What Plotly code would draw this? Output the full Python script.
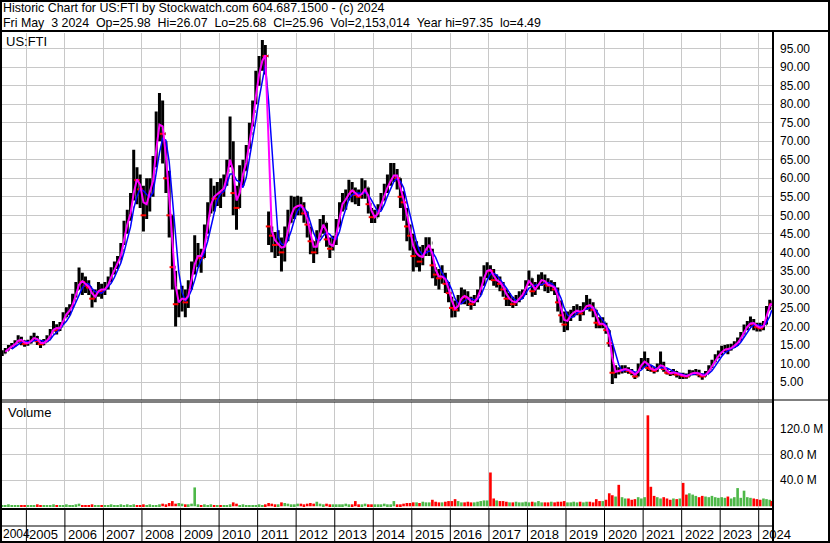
import pandas as pd
import plotly.graph_objects as go

# Stockwatch historic chart for US:FTI, monthly bars
first_day = '2004-05-17'
last_day = '2024-05-03'
first_open = 12.4

close = [
    # 2004 (May-Dec)
    12.8, 13.5, 14.3, 14.8, 15.5, 16.8, 16.0, 15.3,
    # 2005
    15.6, 16.5, 17.2, 16.0, 15.2, 15.8, 16.6, 18.0, 20.2, 19.0, 20.0, 22.5,
    # 2006
    24.0, 24.5, 27.0, 30.0, 32.5, 32.0, 31.0, 30.5, 27.5, 28.5, 30.5, 29.5,
    # 2007
    30.5, 32.0, 34.5, 36.0, 37.5, 40.5, 46.0, 49.0, 52.0, 60.0, 59.5, 57.0,
    # 2008
    50.0, 56.0, 56.5, 62.0, 73.0, 76.0, 72.0, 60.0, 50.0, 36.0, 26.0, 27.0,
    # 2009
    28.0, 26.5, 30.0, 35.0, 38.5, 39.5, 38.5, 44.0, 50.0, 55.5, 54.5, 57.0,
    # 2010
    56.0, 58.5, 62.0, 68.0, 56.0, 52.0, 60.0, 62.0, 66.5, 72.0, 78.0, 86.0,
    # 2011
    90.0, 93.5, 93.0, 47.0, 44.5, 42.0, 42.5, 40.0, 43.0, 48.0, 52.0, 52.0,
    # 2012
    53.0, 52.5, 50.5, 47.5, 43.0, 40.0, 43.0, 47.0, 48.0, 43.5, 41.0, 42.5,
    # 2013
    47.0, 52.0, 54.0, 54.5, 57.0, 56.5, 55.5, 55.0, 56.5, 57.5, 53.0, 49.5,
    # 2014
    49.5, 51.5, 54.0, 56.5, 58.5, 60.0, 61.5, 60.0, 55.0, 53.5, 47.0, 44.5,
    # 2015
    39.0, 40.5, 37.5, 40.0, 41.5, 42.5, 36.5, 34.0, 33.0, 34.0, 31.5, 29.0,
    # 2016
    25.0, 24.5, 26.5, 28.5, 28.0, 27.5, 26.0, 27.0, 28.5, 31.5, 34.5, 35.5,
    # 2017
    35.0, 32.5, 32.5, 31.5, 30.0, 27.5, 27.5, 26.0, 27.0, 28.0, 29.0, 31.5,
    # 2018
    33.0, 29.5, 30.5, 32.0, 33.0, 31.5, 31.0, 31.0, 30.0, 26.5, 23.0, 20.5,
    # 2019
    22.5, 23.5, 24.0, 24.5, 23.5, 25.0, 26.0, 25.5, 24.5, 21.0, 20.5, 21.0,
    # 2020
    19.0, 15.5, 7.5, 8.0, 7.9, 8.5, 8.5, 8.0, 7.5, 6.5, 9.0, 10.0,
    # 2021
    11.0, 8.8, 8.5, 8.0, 9.0, 10.0, 8.5, 7.5, 7.3, 7.8, 7.0, 7.0,
    # 2022
    6.6, 6.5, 7.4, 7.4, 7.6, 7.0, 6.5, 7.2, 8.5, 10.0, 11.5, 12.5,
    # 2023
    13.5, 14.0, 13.8, 14.5, 15.0, 16.0, 17.5, 19.5, 20.3, 21.3, 20.5, 19.8,
    # 2024 (Jan-May 3)
    19.5, 20.5, 24.5, 26.5, 25.96,
]

high = [
    13.6, 14.2, 15.0, 15.5, 16.3, 17.6, 17.2, 16.2,
    16.4, 17.5, 18.3, 17.4, 16.2, 16.6, 17.6, 19.3, 21.5, 20.6, 21.2, 23.8,
    25.2, 26.0, 28.8, 32.0, 35.9, 34.5, 33.5, 32.5, 30.0, 30.0, 32.0, 31.5,
    32.0, 33.5, 36.0, 37.5, 39.0, 42.5, 48.5, 51.5, 56.0, 67.7, 63.0, 61.0,
    58.0, 60.0, 60.0, 66.0, 78.0, 83.0, 81.0, 70.0, 62.0, 50.0, 35.0, 30.0,
    31.0, 30.0, 32.5, 37.5, 44.6, 42.5, 41.0, 47.5, 53.5, 60.0, 58.0, 59.0,
    60.0, 61.0, 65.0, 76.7, 70.0, 58.0, 63.5, 65.0, 69.0, 75.0, 81.0, 89.0,
    93.0, 97.35, 96.0, 51.0, 47.0, 45.5, 46.0, 44.0, 47.0, 51.5, 55.3, 55.0,
    55.3, 55.0, 53.5, 51.0, 47.0, 43.0, 46.0, 49.0, 50.1, 48.0, 44.0, 44.5,
    49.0, 53.5, 56.0, 57.0, 59.6, 59.0, 57.5, 57.0, 60.0, 59.5, 57.5, 52.0,
    51.5, 53.0, 56.0, 58.5, 61.0, 64.1, 64.1, 62.5, 60.0, 56.5, 52.0, 47.5,
    45.0, 43.0, 41.5, 42.0, 44.1, 44.1, 41.0, 36.0, 35.5, 36.5, 34.5, 32.0,
    28.0, 27.0, 28.5, 30.5, 30.0, 29.5, 28.0, 28.5, 30.0, 33.5, 36.5, 37.3,
    36.5, 35.5, 34.0, 33.5, 32.0, 30.0, 29.0, 28.0, 28.5, 29.5, 30.0, 32.5,
    35.1, 33.0, 32.0, 34.0, 34.6, 34.0, 33.0, 32.5, 32.0, 30.5, 27.0, 24.0,
    24.0, 24.5, 25.5, 26.0, 25.5, 26.5, 28.5, 27.5, 26.5, 24.5, 22.5, 22.5,
    21.0, 19.0, 15.0, 9.5, 9.0, 9.5, 9.5, 9.0, 8.5, 7.5, 10.0, 11.5,
    13.2, 11.5, 9.5, 9.0, 10.0, 13.2, 10.5, 8.5, 8.0, 8.5, 8.0, 7.5,
    7.5, 7.3, 8.3, 8.2, 8.5, 8.3, 7.3, 8.0, 9.5, 11.0, 12.5, 13.5,
    14.8, 15.0, 15.2, 15.3, 16.0, 17.0, 18.5, 20.5, 21.5, 22.7, 22.0, 21.0,
    21.0, 21.5, 25.5, 27.2, 26.07,
]

low = [
    12.0, 12.7, 13.5, 14.0, 14.6, 15.6, 14.9, 14.5,
    14.8, 15.4, 16.2, 15.0, 14.2, 14.9, 15.7, 16.8, 18.6, 17.8, 18.8, 20.6,
    22.5, 23.0, 25.0, 27.8, 30.0, 28.5, 29.0, 28.5, 25.1, 26.5, 28.0, 27.5,
    28.5, 30.0, 32.0, 34.0, 35.5, 38.0, 42.0, 45.0, 48.5, 54.0, 53.0, 52.0,
    45.6, 49.0, 51.0, 55.0, 63.0, 70.0, 64.0, 56.0, 44.0, 30.0, 20.0, 22.5,
    24.0, 22.5, 25.0, 30.0, 34.0, 36.0, 34.5, 38.5, 45.0, 50.5, 51.0, 52.5,
    52.0, 55.0, 58.0, 63.0, 50.0, 46.1, 52.0, 58.0, 62.0, 68.0, 74.0, 80.0,
    85.0, 89.0, 88.0, 42.0, 40.0, 38.5, 39.0, 34.8, 37.5, 43.0, 48.0, 49.0,
    50.0, 50.0, 48.0, 44.0, 39.5, 37.1, 39.5, 44.0, 45.0, 41.5, 38.5, 40.5,
    42.0, 47.0, 51.0, 51.5, 54.0, 53.5, 53.0, 52.5, 54.5, 54.5, 50.5, 47.9,
    47.9, 49.5, 51.5, 54.0, 56.0, 58.0, 59.0, 57.0, 52.0, 48.5, 43.0, 40.5,
    34.8, 36.0, 34.8, 36.5, 39.0, 39.0, 33.0, 31.0, 30.0, 31.5, 29.0, 26.5,
    22.4, 22.5, 24.0, 26.0, 26.0, 25.5, 24.5, 25.5, 26.5, 28.5, 31.0, 33.0,
    32.5, 31.0, 30.5, 29.5, 28.0, 25.5, 25.5, 25.0, 25.5, 26.5, 27.5, 28.5,
    31.0, 28.0, 28.5, 30.0, 31.0, 29.5, 29.0, 29.5, 28.5, 24.0, 21.0, 18.5,
    19.0, 21.5, 22.5, 23.0, 21.5, 23.0, 24.5, 24.0, 22.5, 19.5, 19.5, 19.5,
    18.0, 14.5, 4.49, 6.0, 7.0, 7.3, 7.5, 7.2, 6.8, 5.8, 6.5, 8.5,
    9.0, 8.0, 7.8, 7.3, 7.8, 8.8, 7.8, 7.0, 6.6, 6.8, 6.2, 5.8,
    5.8, 5.9, 6.5, 6.8, 6.8, 6.3, 5.6, 6.5, 7.5, 8.8, 10.3, 11.5,
    12.3, 13.0, 12.5, 13.5, 14.2, 14.8, 16.2, 17.8, 19.0, 20.0, 19.0, 18.6,
    18.6, 19.0, 20.5, 24.5, 25.68,
]

# volume in millions (tallest daily bar seen in each month)
volume_m = [
    2, 1.5, 3, 2, 1.5, 2, 1.5, 1.5,
    1.5, 2, 1.5, 3, 2, 1.5, 2, 2, 3, 2, 1.5, 2,
    3, 2, 2, 3, 4, 2, 2, 2, 3, 2, 2, 2,
    2, 2, 3, 2, 2, 3, 2, 3, 2, 3, 2, 2,
    3, 2, 3, 2, 2, 3, 4, 3, 5, 8, 4, 5,
    4, 3, 3, 4, 29, 3, 2, 3, 2, 3, 2, 2,
    2, 2, 2, 3, 6, 4, 2, 3, 2, 2, 2, 2,
    3, 2, 3, 5, 4, 3, 3, 6, 5, 4, 3, 3,
    4, 4, 3, 4, 5, 4, 7, 4, 3, 4, 3, 3,
    3, 3, 3, 4, 3, 3, 8, 3, 3, 4, 3, 3,
    3, 3, 3, 4, 3, 3, 8, 3, 3, 4, 5, 5,
    6, 6, 5, 7, 6, 6, 10, 7, 6, 6, 7, 8,
    8, 11, 8, 6, 6, 7, 6, 6, 7, 8, 9, 9,
    52, 12, 9, 8, 8, 7, 6, 6, 7, 6, 6, 7,
    6, 7, 6, 8, 6, 6, 6, 7, 6, 7, 7, 8,
    6, 6, 7, 6, 7, 6, 7, 7, 6, 11, 8, 8,
    10, 20, 17, 15, 33, 14, 12, 12, 10, 11, 14, 12,
    14, 140, 30, 16, 14, 12, 14, 12, 10, 12, 11, 12,
    36, 18, 20, 18, 16, 14, 16, 15, 14, 16, 14, 13,
    14, 13, 15, 12, 14, 28, 13, 24, 14, 13, 12, 11,
    10, 12, 11, 10, 8,
]

year_labels = [str(y) for y in range(2004, 2025)]
price_ticks = [5 * i for i in range(1, 20)]
volume_ticks = [40, 80, 120]

header1 = 'Historic Chart for US:FTI by Stockwatch.com 604.687.1500 - (c) 2024'
header2 = ('Fri May  3 2024  Op=25.98  Hi=26.07  Lo=25.68  Cl=25.96  '
           'Vol=2,153,014  Year hi=97.35  lo=4.49').replace('  ', '\u00a0\u00a0')

# bars sit mid-month, first and last bar on their actual days
dates = list(pd.date_range('2004-05-01', '2024-05-01', freq='MS') + pd.Timedelta(days=14))
dates[0] = pd.Timestamp(first_day)
dates[-1] = pd.Timestamp(last_day)

df = pd.DataFrame({'date': dates, 'close': close, 'high': high, 'low': low, 'vol': volume_m})
df['open'] = [first_open] + close[:-1]
df['ma_fast'] = df['close'].rolling(2).mean()
df['ma_slow'] = df['close'].rolling(4).mean()
down = df['close'] < df['open']

FONT = 'Liberation Sans, Arial, sans-serif'
GRID = '#c8c8c8'
W, H = 830, 543
PLOT_L, PLOT_R, PLOT_T, PLOT_B = 2, 772, 33, 509


def px(x):
    return (x - PLOT_L) / (PLOT_R - PLOT_L)


def py(y):
    return (PLOT_B - y) / (PLOT_B - PLOT_T)


fig = go.Figure()

fig.add_trace(go.Ohlc(
    x=df['date'], open=df['open'], high=df['high'], low=df['low'], close=df['close'],
    increasing=dict(line=dict(color='black', width=3)),
    decreasing=dict(line=dict(color='black', width=3)),
    tickwidth=0.25, xaxis='x', yaxis='y', hoverinfo='skip'))

fig.add_trace(go.Scatter(
    x=df['date'][down], y=df['close'][down], mode='markers', xaxis='x', yaxis='y',
    marker=dict(symbol='line-ew', size=4, line=dict(color='#ff0000', width=2)),
    hoverinfo='skip'))

fig.add_trace(go.Scatter(
    x=df['date'], y=df['ma_slow'], mode='lines', xaxis='x', yaxis='y',
    line=dict(color='#0000ff', width=1.5), hoverinfo='skip'))

fig.add_trace(go.Scatter(
    x=df['date'], y=df['ma_fast'], mode='lines', xaxis='x', yaxis='y',
    line=dict(color='#ff00ff', width=2), hoverinfo='skip'))

fig.add_trace(go.Bar(
    x=df['date'], y=df['vol'] * 1e6, xaxis='x', yaxis='y2',
    marker=dict(color=['#ff0000' if d else '#4db848' for d in down], line=dict(width=0)),
    width=25 * 86400000, hoverinfo='skip'))

shapes = []


def hline(y, x0, x1, w):
    shapes.append(dict(type='line', xref='paper', yref='paper', x0=px(x0), x1=px(x1),
                       y0=py(y), y1=py(y), line=dict(color='black', width=w)))


def vline(x, y0, y1, w):
    shapes.append(dict(type='line', xref='paper', yref='paper', x0=px(x), x1=px(x),
                       y0=py(y0), y1=py(y1), line=dict(color='black', width=w)))


# frame and panel dividers
shapes.append(dict(type='rect', xref='paper', yref='paper', x0=px(1), x1=px(829),
                   y0=py(542), y1=py(1), line=dict(color='black', width=2)))
hline(31, 0, W, 2)
vline(773, 31, 542, 2)
hline(400, 0, W, 1)
hline(402, 0, 773, 1)
hline(509, 0, 773, 2)
hline(526, 0, 773, 1)

annotations = []
for lab in year_labels:
    y = int(lab)
    if y > 2004:
        shapes.append(dict(type='line', xref='x', yref='paper', x0=f'{y}-01-01', x1=f'{y}-01-01',
                           y0=py(509), y1=py(541), line=dict(color='black', width=1)))
        annotations.append(dict(x=f'{y}-01-01', xref='x', xanchor='left', xshift=1,
                                y=py(534), yref='paper', yanchor='middle', text=lab,
                                showarrow=False, font=dict(size=13, color='black', family=FONT)))
    else:
        # first year only has a sliver of room before the 2005 line
        annotations.append(dict(x=px(1), xref='paper', xanchor='left',
                                y=py(534), yref='paper', yanchor='middle', text=lab,
                                showarrow=False, font=dict(size=12, color='black', family=FONT)))

for txt, top in [(header1, -1), (header2, 14)]:
    annotations.append(dict(x=px(1), y=py(top), xref='paper', yref='paper', xanchor='left',
                            yanchor='top', text=txt, showarrow=False,
                            font=dict(size=12.4, color='black', family=FONT)))

annotations.append(dict(x=px(4), y=py(32), xref='paper', yref='paper', xanchor='left',
                        yanchor='top', text='US:FTI', showarrow=False,
                        font=dict(size=13, color='black', family=FONT)))
annotations.append(dict(x=px(6), y=py(403), xref='paper', yref='paper', xanchor='left',
                        yanchor='top', text='Volume', showarrow=False,
                        font=dict(size=13, color='black', family=FONT)))

fig.update_layout(
    width=W, height=H,
    margin=dict(l=PLOT_L, r=W - PLOT_R, t=PLOT_T, b=H - PLOT_B, pad=0),
    paper_bgcolor='white', plot_bgcolor='white',
    showlegend=False, hovermode=False,
    font=dict(family=FONT, size=12, color='black'),
    xaxis=dict(domain=[0, 1], anchor='y2', range=['2004-05-15', '2024-05-06'],
               showgrid=True, gridcolor=GRID, gridwidth=1, tick0='2005-01-01', dtick='M12',
               showticklabels=False, ticks='', zeroline=False, showline=False,
               automargin=False, rangeslider=dict(visible=False)),
    yaxis=dict(domain=[py(400), 1], anchor='x', side='right', range=[0.14, 99.22],
               tickvals=price_ticks, ticktext=[f'{v:.2f}' for v in price_ticks],
               showgrid=True, gridcolor=GRID, gridwidth=1, zeroline=False, ticks='',
               automargin=False, ticklabelstandoff=7, tickfont=dict(size=12, color='black')),
    yaxis2=dict(domain=[0, py(402)], anchor='x', side='right', range=[-4.2e6, 160.5e6],
                tickvals=[v * 1e6 for v in volume_ticks],
                ticktext=[f'{v:.1f} M' for v in volume_ticks],
                showgrid=True, gridcolor=GRID, gridwidth=1, zeroline=False, ticks='',
                automargin=False, ticklabelstandoff=7, tickfont=dict(size=12, color='black')),
    shapes=shapes, annotations=annotations,
)

# the page body has a default 8px margin; drop it so the chart fills the window
fig.write_html('out.html', config={'displayModeBar': False},
               post_script="document.body.style.margin='0';")
